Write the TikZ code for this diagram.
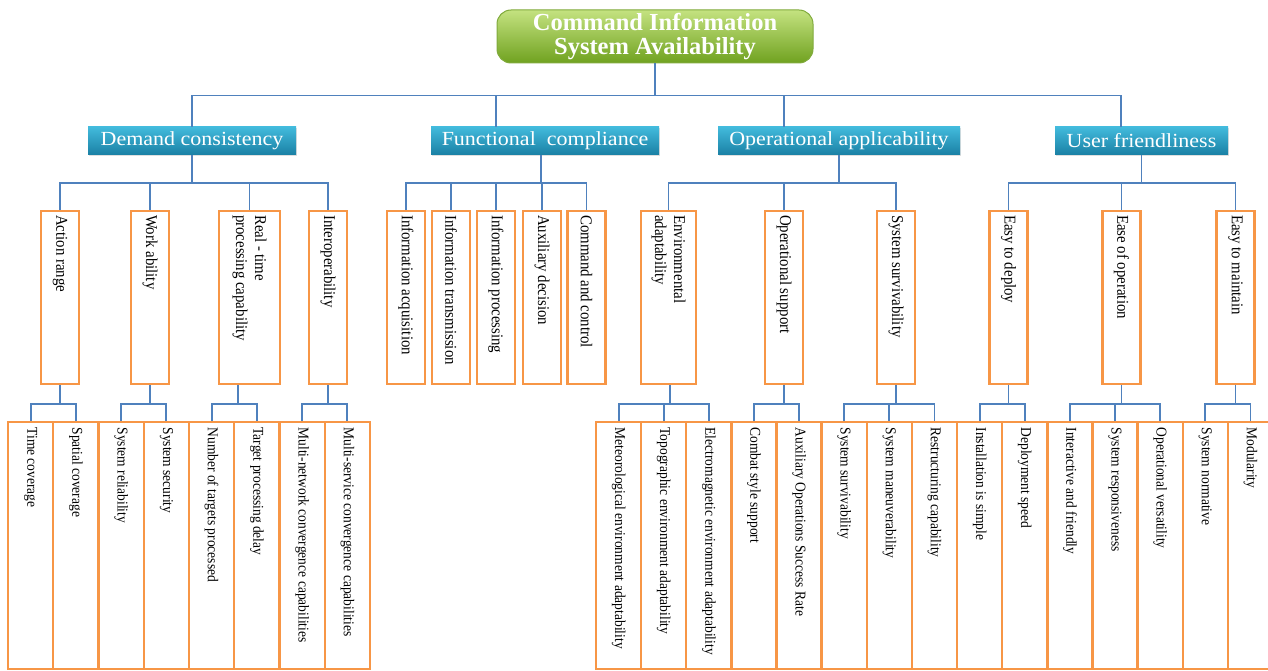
\documentclass[tikz,border=0pt]{standalone}
\usepackage{fontspec}
\setmainfont{Liberation Serif}
\usepackage{graphicx}
\usetikzlibrary{shadows}
\definecolor{lineblue}{RGB}{79,129,189}
\definecolor{boxorange}{RGB}{247,150,70}
\definecolor{ltop}{RGB}{66,186,220}
\definecolor{lbot}{RGB}{26,128,164}
\definecolor{gtop}{RGB}{196,226,128}
\definecolor{gbot}{RGB}{112,162,32}
\definecolor{gborder}{RGB}{128,170,60}
\newcommand{\vt}[2]{\rotatebox{-90}{\scalebox{0.9}[1]{\parbox{#1}{\raggedright #2}}}}
\begin{document}
\begin{tikzpicture}[x=1pt,y=-1pt,
  conn/.style={draw=lineblue, line width=1.8pt},
  topbox/.style={draw=gborder, line width=1pt, rounded corners=14pt, top color=gtop, bottom color=gbot,
    minimum width=316pt, minimum height=53pt, inner sep=0pt, align=center, text=white,
    font=\fontsize{24.5}{24.5}\selectfont\bfseries},
  lvtwo/.style={top color=ltop, bottom color=lbot, minimum height=28pt, inner sep=0pt, text=white,
    font=\fontsize{20}{24}\selectfont, drop shadow={opacity=0.25, shadow xshift=1pt, shadow yshift=-1.5pt}},
  lvthree/.style={draw=boxorange, line width=2.4pt, fill=white, inner sep=0pt, minimum height=173pt,
    font=\fontsize{16.5}{19}\selectfont},
  lvfour/.style={draw=boxorange, line width=2.4pt, fill=white, inner sep=0pt, minimum width=45.2pt,
    minimum height=247pt, font=\fontsize{15}{17}\selectfont}
]
\useasboundingbox (0,0) rectangle (1268,671);

% root
\node[topbox] (top) at (655,36.5) {Command Information\\System Availability};

% level 2
\node[lvtwo, minimum width=208pt] (dc) at (192,141) {\scalebox{1.1}[1]{Demand consistency}};
\node[lvtwo, minimum width=228pt] (fc) at (545,141) {\scalebox{1.1}[1]{Functional\ \ compliance}};
\node[lvtwo, minimum width=242pt] (oa) at (839,141) {\scalebox{1.1}[1]{Operational applicability}};
\node[lvtwo, minimum width=173pt] (uf) at (1141.5,141) {\scalebox{1.1}[1]{User friendliness}};

% level 3
\node[lvthree, minimum width=38pt] (ar) at (60,297.5) {\vt{183pt}{Action range}};
\node[lvthree, minimum width=38pt] (wa) at (150,297.5) {\vt{183pt}{Work ability}};
\node[lvthree, minimum width=61pt] (rt) at (249.5,297.5) {\vt{183pt}{Real - time\\processing capability}};
\node[lvthree, minimum width=38pt] (io) at (328,297.5) {\vt{183pt}{Interoperability}};
\node[lvthree, minimum width=38pt] (ia) at (406,297.5) {\vt{183pt}{Information acquisition}};
\node[lvthree, minimum width=38pt] (it) at (451,297.5) {\vt{183pt}{Information transmission}};
\node[lvthree, minimum width=38pt] (ip) at (496,297.5) {\vt{183pt}{Information processing}};
\node[lvthree, minimum width=38pt] (ad) at (542,297.5) {\vt{183pt}{Auxiliary decision}};
\node[lvthree, minimum width=38pt] (cc) at (586.5,297.5) {\vt{183pt}{Command and control}};
\node[lvthree, minimum width=55pt] (ea) at (668.5,297.5) {\vt{183pt}{Environmental\\adaptability}};
\node[lvthree, minimum width=38pt] (os) at (784,297.5) {\vt{183pt}{Operational support}};
\node[lvthree, minimum width=38pt] (ss) at (896,297.5) {\vt{183pt}{System survivability}};
\node[lvthree, minimum width=38pt] (ed) at (1008.5,297.5) {\vt{183pt}{Easy to deploy}};
\node[lvthree, minimum width=38pt] (eo) at (1121.5,297.5) {\vt{183pt}{Ease of operation}};
\node[lvthree, minimum width=38pt] (em) at (1235.5,297.5) {\vt{183pt}{Easy to maintain}};

% level 4, left group
\foreach \t [count=\i] in {Time coverage, Spatial coverage, System reliability, System security,
    Number of targets processed, Target processing delay,
    Multi-network convergence capabilities, Multi-service convergence capabilities}
  \node[lvfour] (b\i) at ({30.6+45.25*(\i-1)},545.5) {\vt{262pt}{\t}};
% level 4, right group
\foreach \t [count=\i from 9] in {Meteorological environment adaptability, Topographic environment adaptability,
    Electromagnetic environment adaptability, Combat style support, Auxiliary Operations Success Rate,
    System survivability, System maneuverability, Restructuring capability, Installation is simple,
    Deployment speed, Interactive and friendly, System responsiveness, Operational versatility,
    System normative, Modularity}
  \node[lvfour] (b\i) at ({618.6+45.13*(\i-9)},545.5) {\vt{262pt}{\t}};

% connectors root -> level 2
\draw[conn] (top.south) -- ++(0,32) -| (dc.north);
\draw[conn] (top.south) -- ++(0,32) -| ([xshift=-49pt]fc.north);
\draw[conn] (top.south) -- ++(0,32) -| ([xshift=-55pt]oa.north);
\draw[conn] (top.south) -- ++(0,32) -| ([xshift=-20.5pt]uf.north);

% level 2 -> level 3
\foreach \c in {ar,wa,rt,io} \draw[conn] (dc.south) -- ++(0,28) -| (\c.north);
\foreach \c in {ia,it,ip,ad,cc} \draw[conn] ([xshift=-4pt]fc.south) -- ++(0,28) -| (\c.north);
\foreach \c in {ea,os,ss} \draw[conn] (oa.south) -- ++(0,28) -| (\c.north);
\foreach \c in {ed,eo,em} \draw[conn] (uf.south) -- ++(0,28) -| (\c.north);

% level 3 -> level 4
\foreach \c in {b1,b2} \draw[conn] (ar.south) -- ++(0,19) -| (\c.north);
\foreach \c in {b3,b4} \draw[conn] (wa.south) -- ++(0,19) -| (\c.north);
\foreach \c in {b5,b6} \draw[conn] ([xshift=-11.5pt]rt.south) -- ++(0,19) -| (\c.north);
\foreach \c in {b7,b8} \draw[conn] (io.south) -- ++(0,19) -| (\c.north);
\foreach \c in {b9,b10,b11} \draw[conn] ([xshift=1.5pt]ea.south) -- ++(0,19) -| (\c.north);
\foreach \c in {b12,b13} \draw[conn] (os.south) -- ++(0,19) -| (\c.north);
\foreach \c in {b14,b15,b16} \draw[conn] (ss.south) -- ++(0,19) -| (\c.north);
\foreach \c in {b17,b18} \draw[conn] (ed.south) -- ++(0,19) -| (\c.north);
\foreach \c in {b19,b20,b21} \draw[conn] (eo.south) -- ++(0,19) -| (\c.north);
\foreach \c in {b22,b23} \draw[conn] (em.south) -- ++(0,19) -| (\c.north);
\end{tikzpicture}
\end{document}
